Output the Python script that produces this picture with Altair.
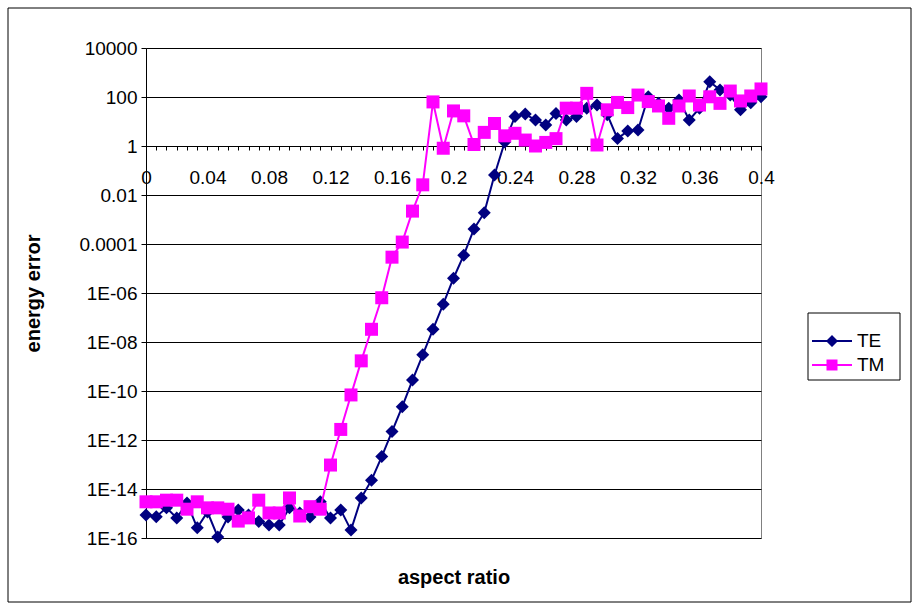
import altair as alt
import pandas as pd

# Category positions along the x axis (aspect ratio)
X = [0, 0.00667, 0.01333, 0.02, 0.02667, 0.03333, 0.04, 0.04667, 0.05333, 0.06,
     0.06667, 0.07333, 0.08, 0.08667, 0.09333, 0.1, 0.10667, 0.11333, 0.12, 0.12667,
     0.13333, 0.14, 0.14667, 0.15333, 0.16, 0.16667, 0.17333, 0.18, 0.18667, 0.19333,
     0.2, 0.20667, 0.21333, 0.22, 0.22667, 0.23333, 0.24, 0.24667, 0.25333, 0.26,
     0.26667, 0.27333, 0.28, 0.28667, 0.29333, 0.3, 0.30667, 0.31333, 0.32, 0.32667,
     0.33333, 0.34, 0.34667, 0.35333, 0.36, 0.36667, 0.37333, 0.38, 0.38667, 0.39333,
     0.4]

TE = [8.7e-16, 7.4e-16, 1.7e-15, 6.6e-16, 2.7e-15, 2.6e-16, 1.15e-15, 1.1e-16, 7.2e-16, 1.4e-15,
      8.7e-16, 4.7e-16, 3.4e-16, 3.4e-16, 1.7e-15, 1.05e-15, 7.2e-16, 3.0e-15, 6.6e-16, 1.4e-15,
      2.1e-16, 4.3e-15, 2.3e-14, 2.1e-13, 2.2e-12, 2.3e-11, 2.8e-10, 3.0e-9, 3.3e-8, 3.5e-7,
      4.0e-6, 3.5e-5, 4.1e-4, 1.9e-3, 0.066, 1.45, 16, 20, 11.5, 7.2,
      21, 11.5, 16, 35, 47, 19, 2.0, 4.1, 4.5, 102,
      55, 35, 76, 11.5, 35, 417, 195, 120, 30, 58,
      102]

TM = [3.0e-15, 3.0e-15, 3.5e-15, 3.5e-15, 1.5e-15, 3.0e-15, 1.7e-15, 1.7e-15, 1.5e-15, 4.9e-16,
      6.6e-16, 3.5e-15, 1.05e-15, 1.05e-15, 4.3e-15, 7.9e-16, 1.9e-15, 1.5e-15, 9.5e-14, 2.7e-12,
      6.9e-11, 1.7e-9, 3.3e-8, 6.4e-7, 2.9e-5, 1.2e-4, 2.2e-3, 0.026, 63, 0.81,
      27, 17, 1.15, 3.6, 8.3, 2.6, 3.3, 1.75, 1.0, 1.4,
      2.0, 35, 35, 141, 1.1, 30, 60, 37, 120, 65,
      43, 13.5, 43, 110, 47, 102, 55, 175, 69, 110,
      213]

SERIES = ["TE", "TM"]
COLORS = ["#000080", "#FF00FF"]

X_LABEL_VALUES = [0, 0.04, 0.08, 0.12, 0.16, 0.2, 0.24, 0.28, 0.32, 0.36, 0.4]
X_LABELS = ["0", "0.04", "0.08", "0.12", "0.16", "0.2", "0.24", "0.28", "0.32", "0.36", "0.4"]

Y_TICKS = [1e-16, 1e-14, 1e-12, 1e-10, 1e-08, 1e-06, 1e-04, 1e-02, 1.0, 100.0, 10000.0]
Y_LABELS = ["1E-16", "1E-14", "1E-12", "1E-10", "1E-08", "1E-06", "0.0001", "0.01", "1", "100", "10000"]


def label_expr(values, labels):
    parts = [f"datum.value == {v!r} ? '{l}'" for v, l in zip(values, labels)]
    return " : ".join(parts) + " : ''"


df = pd.DataFrame({
    "x": X + X,
    "v": TE + TM,
    "series": ["TE"] * len(TE) + ["TM"] * len(TM),
})

FONT = "Liberation Sans"

x_enc = alt.X(
    "x:Q",
    scale=alt.Scale(domain=[0, 0.4], nice=False, zero=False),
    axis=alt.Axis(
        values=X, labelExpr=label_expr(X_LABEL_VALUES, X_LABELS),
        orient="bottom", offset=-392, grid=False,
        domainColor="black", tickColor="black", tickSize=4,
        labelFont=FONT, labelFontSize=19, labelColor="black", labelPadding=18,
        labelOverlap=False, labelFlush=False,
        title="aspect ratio", titleFont=FONT, titleFontSize=20, titleFontWeight="bold",
        titleColor="black", titleX=307.5, titleY=431, titleAlign="center",
        titleBaseline="middle",
    ),
)

y_enc = alt.Y(
    "v:Q",
    scale=alt.Scale(type="log", domain=[1e-16, 1e4], nice=False),
    axis=alt.Axis(
        values=Y_TICKS, labelExpr=label_expr(Y_TICKS, Y_LABELS),
        grid=True, gridColor="black", gridWidth=1,
        domainColor="black", tickColor="black", tickSize=5,
        labelFont=FONT, labelFontSize=19, labelColor="black", labelPadding=4,
        labelOverlap=False,
        title="energy error", titleFont=FONT, titleFontSize=20, titleFontWeight="bold",
        titleColor="black", titleX=-113, titleY=245, titleAngle=270,
        titleAlign="center", titleBaseline="middle",
    ),
)

color_enc = alt.Color("series:N", scale=alt.Scale(domain=SERIES, range=COLORS), legend=None)
shape_enc = alt.Shape("series:N", scale=alt.Scale(domain=SERIES, range=["diamond", "square"]), legend=None)

one = pd.DataFrame({"k": [0]})

frame = alt.Chart(one).mark_rect(fillOpacity=0, stroke="black", strokeWidth=1).encode(
    x=alt.value(-138), x2=alt.value(765), y=alt.value(-40), y2=alt.value(554)
)

legend_box = alt.Chart(one).mark_rect(fill="white", stroke="black", strokeWidth=1).encode(
    x=alt.value(662), x2=alt.value(754), y=alt.value(265), y2=alt.value(332)
)


def series_layers(name):
    base = alt.Chart(df).transform_filter(alt.datum.series == name)
    line = base.mark_line(strokeWidth=2).encode(x=x_enc, y=y_enc, color=color_enc)
    pts = base.mark_point(filled=True, size=169, opacity=1).encode(
        x=x_enc, y=y_enc, color=color_enc, shape=shape_enc
    )
    return [line, pts]


P_TE = "M-1.6,-0.08L1.6,-0.08L1.6,0.08L-1.6,0.08Z M0,-0.48L0.48,0L0,0.48L-0.48,0Z"
P_TM = "M-1.6,-0.08L1.6,-0.08L1.6,0.08L-1.6,0.08Z M-0.44,-0.44L0.44,-0.44L0.44,0.44L-0.44,0.44Z"

leg = alt.Legend(
    orient="none", legendX=673.5, legendY=280.5, title=None, padding=0,
    symbolSize=625, symbolStrokeWidth=0, labelFont=FONT, labelFontSize=19,
    labelColor="black", labelOffset=12.5, rowPadding=1,
)

legend_layer = alt.Chart(df).transform_filter("datum.v < 0").mark_point(
    filled=True, opacity=1, size=625
).encode(
    x=x_enc, y=y_enc,
    fill=alt.Fill("series:N", scale=alt.Scale(domain=SERIES, range=COLORS), legend=leg),
    shape=alt.Shape("series:N", scale=alt.Scale(domain=SERIES, range=[P_TE, P_TM]), legend=leg),
)

chart = alt.layer(
    frame, legend_box, *series_layers("TE"), *series_layers("TM"), legend_layer
).resolve_scale(
    shape="independent", fill="independent"
).resolve_legend(
    shape="independent", fill="independent"
).properties(
    width=615, height=490,
    autosize=alt.AutoSizeParams(type="none"),
    padding={"left": 146, "top": 48, "right": 158, "bottom": 72},
    background="white",
).configure_view(
    stroke="#808080", strokeWidth=1
)

chart.save("out.html", embed_options={"renderer": "svg", "actions": False})
